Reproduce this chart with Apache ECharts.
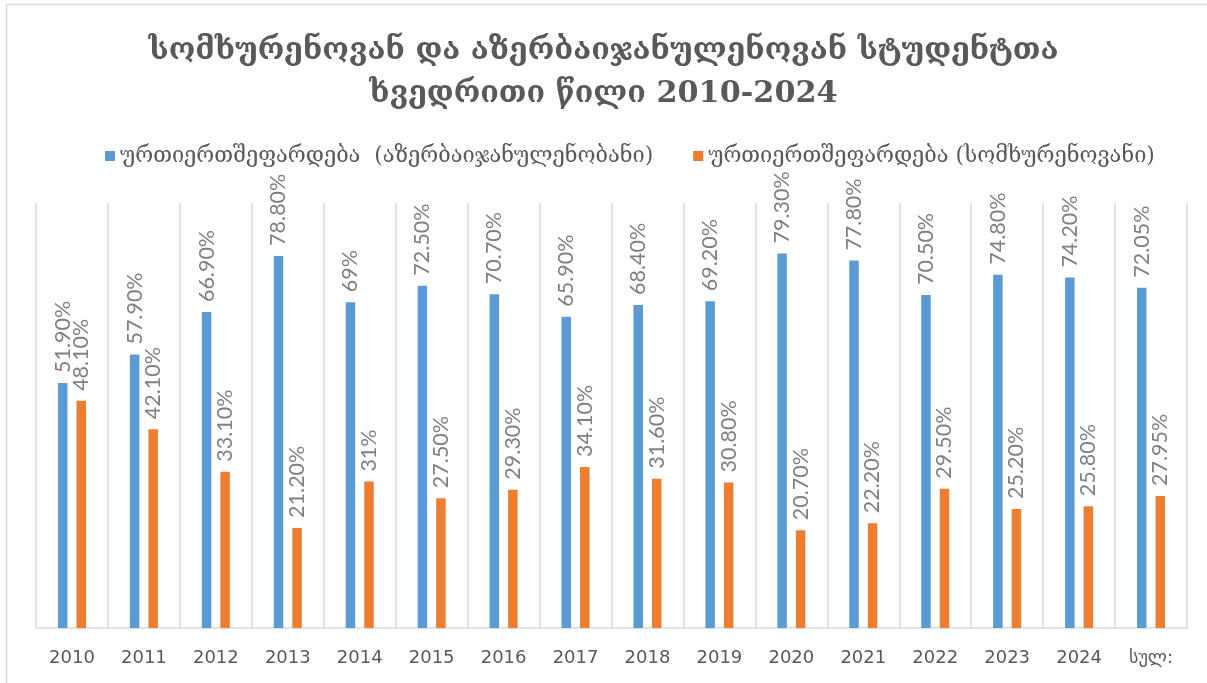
<!DOCTYPE html>
<html>
<head>
<meta charset="utf-8">
<title>chart</title>
<script src="https://cdn.jsdelivr.net/npm/echarts@6/dist/echarts.min.js"></script>
<style>
	html, body { margin: 0; padding: 0; background: #fff; }
	#main { width: 1207px; height: 683px; }
</style>
</head>
<body>
<div id="main"></div>
<script type="text/javascript">
	// წლები და ორი სერია (პროცენტებში)
	var years = ['2010', '2011', '2012', '2013', '2014', '2015', '2016', '2017', '2018', '2019', '2020', '2021', '2022', '2023', '2024', 'სულ:'];
	var azeri = [51.9, 57.9, 66.9, 78.8, 69, 72.5, 70.7, 65.9, 68.4, 69.2, 79.3, 77.8, 70.5, 74.8, 74.2, 72.05];
	var armenian = [48.1, 42.1, 33.1, 21.2, 31, 27.5, 29.3, 34.1, 31.6, 30.8, 20.7, 22.2, 29.5, 25.2, 25.8, 27.95];
	var seriesNames = ['ურთიერთშეფარდება  (აზერბაიჯანულენობანი)', 'ურთიერთშეფარდება (სომხურენოვანი)'];
	var titleText = 'სომხურენოვან და აზერბაიჯანულენოვან სტუდენტთა\nხვედრითი წილი 2010-2024';

	var geo = "'DejaVu Serif', 'DejaVu Sans', serif";

	function pct(p) {
		var v = p.value;
		if (Math.round(v) === v) {
			return v + '%';
		}
		return v.toFixed(2) + '%';
	}

	var labelStyle = {
		show: true,
		position: 'top',
		rotate: 90,
		align: 'left',
		verticalAlign: 'middle',
		distance: 10,
		color: '#808080',
		fontSize: 21.5,
		fontFamily: "Lato, 'Liberation Sans', sans-serif",
		formatter: pct
	};

	var chart = echarts.init(document.getElementById('main'));
	var option = {
		backgroundColor: '#ffffff',
		animation: false,
		title: {
			text: titleText,
			left: 'center',
			top: 25,
			textStyle: {
				fontFamily: geo,
				fontSize: 30.3,
				fontWeight: 'bold',
				color: '#595959',
				lineHeight: 43
			}
		},
		legend: {
			top: 140,
			left: 100,
			itemWidth: 10,
			itemHeight: 10,
			itemGap: 40,
			icon: 'rect',
			data: seriesNames,
			textStyle: {
				fontFamily: geo,
				fontSize: 21.8,
				color: '#595959'
			}
		},
		grid: {
			left: 36,
			right: 20,
			top: 203,
			bottom: 55
		},
		xAxis: {
			type: 'category',
			data: years,
			axisTick: { show: false },
			axisLine: { lineStyle: { color: '#d9d9d9', width: 1.5 } },
			splitLine: { show: true, lineStyle: { color: '#d9d9d9', width: 1.5 } },
			axisLabel: {
				margin: 21,
				fontSize: 18,
				color: '#595959',
				fontFamily: "'DejaVu Sans', sans-serif"
			}
		},
		yAxis: {
			type: 'value',
			min: 0,
			max: 90,
			show: false
		},
		series: [{
			name: seriesNames[0],
			type: 'bar',
			data: azeri,
			barWidth: 9.5,
			barGap: '95%',
			itemStyle: { color: '#5b9bd5' },
			label: labelStyle
		}, {
			name: seriesNames[1],
			type: 'bar',
			data: armenian,
			barWidth: 9.5,
			itemStyle: { color: '#ed7d31' },
			label: labelStyle
		}],
		graphic: [{
			type: 'rect',
			shape: { x: 6.5, y: 4.5, width: 1300, height: 800 },
			style: { fill: null, stroke: '#d9d9d9', lineWidth: 1.5 },
			silent: true
		}]
	};
	chart.setOption(option);
</script>
</body>
</html>
